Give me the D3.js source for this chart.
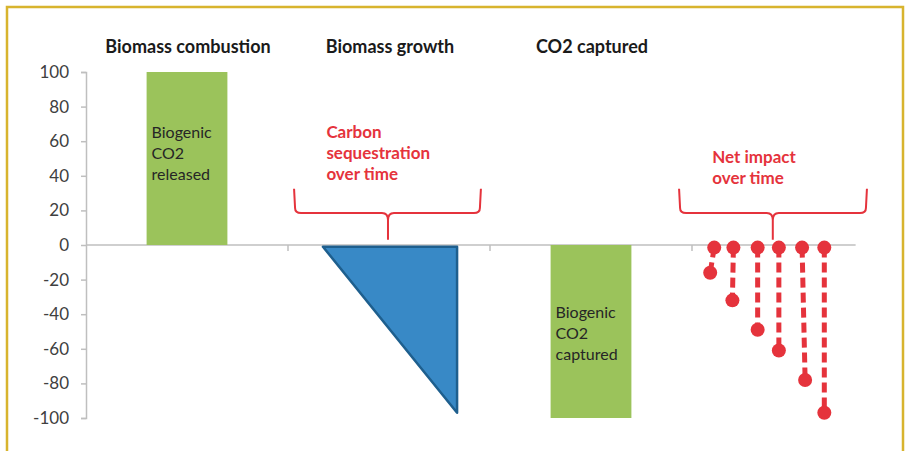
<!DOCTYPE html>
<html>
<head>
<meta charset="utf-8">
<script src="https://cdn.jsdelivr.net/npm/d3@7"></script>
<style>
  body { margin: 0; background: #fff; }
  svg { display: block; font-family: Lato, "Open Sans", sans-serif; }
</style>
</head>
<body>
<div id="chart"></div>
<script>
const W = 908, H = 451;

// data
const categories = ["Biomass combustion", "Biomass growth", "CO2 captured", "Net impact"];
const headers = ["Biomass combustion", "Biomass growth", "CO2 captured"];
const yTicks = [100, 80, 60, 40, 20, 0, -20, -40, -60, -80, -100];
const bars = [
    {cat: "Biomass combustion", value: 100, label: ["Biogenic", "CO2", "released"]},
    {cat: "CO2 captured", value: -100, label: ["Biogenic", "CO2", "captured"]}
];
// triangle for sequestration: time fraction across band, value
const growthShape = [[0, -1], [1, -1], [1, -97]];
// net impact lollipops: time position (0..10 across band), value
const netTimeTop = [1.1, 2.05, 3.25, 4.3, 5.45, 6.55];
const netTimeEnd = [0.9, 2.0, 3.25, 4.3, 5.6, 6.55];
const netTop = -1.5;
const netValues = [-16, -32, -49, -61, -78, -97];
const notes = [
    {cat: "Biomass growth", lines: ["Carbon", "sequestration", "over time"]},
    {cat: "Net impact", lines: ["Net impact", "over time"]}
];
const braces = [
    {cat: "Biomass growth", from: 0.03, to: 0.955, tip: 0.495},
    {cat: "Net impact", from: -0.064, to: 0.866, tip: 0.40}
];

const red = "#e5333c";

const svg = d3.select("#chart").append("svg")
    .attr("width", W)
    .attr("height", H);

// frame
svg.append("path")
    .attr("d", "M7,460 L7,7 L903,7 L903,460")
    .attr("fill", "none")
    .attr("stroke", "#d8b42e")
    .attr("stroke-width", 2.5);

var x = d3.scaleBand().domain(categories).range([86, 894]);
var y = d3.scaleLinear().domain([-100, 100]).range([418, 72]);
var bw = x.bandwidth();

// y axis
var yAxis = svg.append("g")
    .attr("transform", "translate(86,0)")
    .call(d3.axisLeft(y).tickValues(yTicks).tickFormat(d => String(d)).tickSize(5).tickPadding(12));
yAxis.select(".domain").attr("stroke", "#bfbfbf").attr("stroke-width", 1.5);
yAxis.selectAll(".tick line").attr("stroke", "#bfbfbf").attr("stroke-width", 1.5);
yAxis.selectAll("text")
    .attr("fill", "#404040")
    .style("font-size", "17px")
    .style("font-family", "Lato, sans-serif");

// x axis line and dividers
var axisEnd = x("Net impact") + bw * 0.81;
svg.append("line")
    .attr("x1", 86).attr("x2", axisEnd)
    .attr("y1", y(0)).attr("y2", y(0))
    .attr("stroke", "#bfbfbf").attr("stroke-width", 1.5);
svg.selectAll(".xdiv").data(categories.slice(1))
    .enter().append("line")
    .attr("class", "xdiv")
    .attr("x1", d => x(d)).attr("x2", d => x(d))
    .attr("y1", y(0)).attr("y2", y(0) + 6)
    .attr("stroke", "#bfbfbf").attr("stroke-width", 1.5);

// headers
svg.selectAll(".hdr").data(headers)
    .enter().append("text")
    .attr("class", "hdr")
    .attr("x", d => x(d) + bw / 2 + 1)
    .attr("y", 53)
    .attr("text-anchor", "middle")
    .attr("font-weight", "bold")
    .attr("font-size", 18)
    .attr("fill", "#1a1a1a")
    .text(d => d);

// green bars
var barW = bw * 0.4;
svg.selectAll(".bar").data(bars)
    .enter().append("rect")
    .attr("class", "bar")
    .attr("x", d => x(d.cat) + (bw - barW) / 2)
    .attr("y", d => y(Math.max(0, d.value)))
    .attr("width", barW)
    .attr("height", d => Math.abs(y(d.value) - y(0)))
    .attr("fill", "#9bc35b");

bars.forEach(function(b) {
    var top = b.value > 0 ? y(b.value) + 66 : y(0) + 73;
    svg.append("text")
        .attr("x", x(b.cat) + (bw - barW) / 2 + 5)
        .attr("y", top)
        .attr("font-size", 16)
        .attr("fill", "#262626")
        .selectAll("tspan").data(b.label)
        .enter().append("tspan")
        .attr("x", x(b.cat) + (bw - barW) / 2 + 5)
        .attr("dy", (d, i) => i ? 21 : 0)
        .text(d => d);
});

// sequestration triangle
var gx = d3.scaleLinear().domain([0, 1])
    .range([x("Biomass growth") + bw * 0.173, x("Biomass growth") + bw * 0.837]);
svg.append("path")
    .attr("d", d3.line().x(d => gx(d[0])).y(d => y(d[1]))(growthShape) + "Z")
    .attr("fill", "#3889c6")
    .attr("stroke", "#1e5f8e")
    .attr("stroke-width", 2.5)
    .attr("stroke-linejoin", "round");

// net impact lollipops
var tx = d3.scaleLinear().domain([0, 10]).range([x("Net impact"), x("Net impact") + bw]);
var net = netValues.map((v, i) => ({t0: netTimeTop[i], t1: netTimeEnd[i], v: v}));
svg.selectAll(".stem").data(net)
    .enter().append("line")
    .attr("class", "stem")
    .attr("x1", d => tx(d.t0)).attr("y1", y(netTop))
    .attr("x2", d => tx(d.t1)).attr("y2", d => y(d.v))
    .attr("stroke", red)
    .attr("stroke-width", 5)
    .attr("stroke-dasharray", "10,5");
svg.selectAll(".dotTop").data(net)
    .enter().append("circle")
    .attr("class", "dotTop")
    .attr("cx", d => tx(d.t0)).attr("cy", y(netTop))
    .attr("r", 7).attr("fill", red);
svg.selectAll(".dotEnd").data(net)
    .enter().append("circle")
    .attr("class", "dotEnd")
    .attr("cx", d => tx(d.t1)).attr("cy", d => y(d.v))
    .attr("r", 7).attr("fill", red);

// braces
var bTop = y(32.5), bMid = y(18.5), bTip = y(3);
braces.forEach(function(b) {
    var x0 = x(b.cat), l = x0 + bw * b.from, r = x0 + bw * b.to, t = x0 + bw * b.tip;
    var p = d3.path();
    p.moveTo(l, bTop);
    p.lineTo(l + 1, bMid - 5);
    p.quadraticCurveTo(l + 1, bMid, l + 7, bMid);
    p.lineTo(t - 6, bMid);
    p.quadraticCurveTo(t, bMid, t, bMid + 7);
    p.lineTo(t, bTip);
    p.moveTo(t, bMid + 7);
    p.quadraticCurveTo(t, bMid, t + 6, bMid);
    p.lineTo(r - 7, bMid);
    p.quadraticCurveTo(r - 1, bMid, r - 1, bMid - 5);
    p.lineTo(r, bTop);
    svg.append("path")
        .attr("d", p.toString())
        .attr("fill", "none")
        .attr("stroke", red)
        .attr("stroke-width", 2);
});

// red notes
notes.forEach(function(n, k) {
    var nx = k === 0 ? x(n.cat) + bw * 0.19 : x(n.cat) + bw * 0.1;
    var ny = k === 0 ? 138 : 163;
    svg.append("text")
        .attr("y", ny)
        .attr("font-size", 17)
        .attr("font-weight", "bold")
        .attr("fill", red)
        .selectAll("tspan").data(n.lines)
        .enter().append("tspan")
        .attr("x", nx)
        .attr("dy", (d, i) => i ? 21 : 0)
        .text(d => d);
});
</script>
</body>
</html>
